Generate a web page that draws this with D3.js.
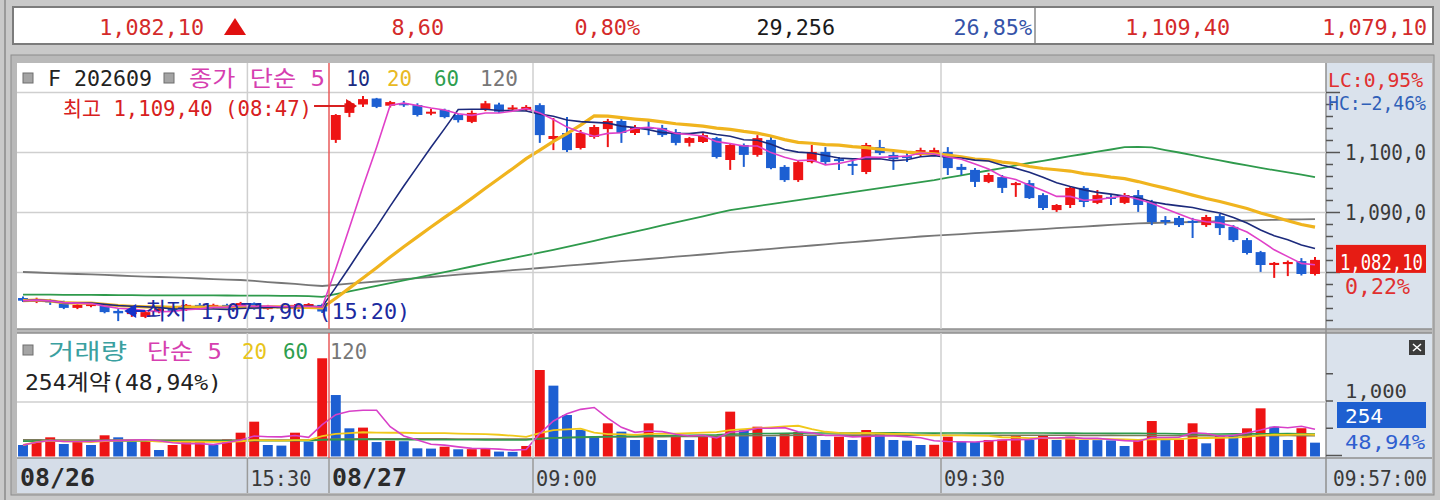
<!DOCTYPE html>
<html lang="ko"><head><meta charset="utf-8"><title>F 202609</title>
<script src="https://cdn.jsdelivr.net/npm/d3@7/dist/d3.min.js"></script>
<style>
html,body{margin:0;padding:0;background:#c6c6c6;overflow:hidden}
svg{display:block}
</style></head><body>
<svg id="chart" width="1440" height="500"></svg>
<script>
// ---------------- DATA ----------------
const times = [
 "08/26 15:13","08/26 15:14","08/26 15:15","08/26 15:16","08/26 15:17","08/26 15:18","08/26 15:19","08/26 15:20",
 "08/26 15:21","08/26 15:22","08/26 15:23","08/26 15:24","08/26 15:25","08/26 15:26","08/26 15:27","08/26 15:28",
 "08/26 15:29","08/26 15:30","08/26 15:31","08/26 15:32","08/26 15:33","08/26 15:34","08/26 15:35",
 "08/27 08:45","08/27 08:46","08/27 08:47","08/27 08:48","08/27 08:49","08/27 08:50","08/27 08:51","08/27 08:52",
 "08/27 08:53","08/27 08:54","08/27 08:55","08/27 08:56","08/27 08:57","08/27 08:58","08/27 08:59",
 "08/27 09:00","08/27 09:01","08/27 09:02","08/27 09:03","08/27 09:04","08/27 09:05","08/27 09:06","08/27 09:07",
 "08/27 09:08","08/27 09:09","08/27 09:10","08/27 09:11","08/27 09:12","08/27 09:13","08/27 09:14","08/27 09:15",
 "08/27 09:16","08/27 09:17","08/27 09:18","08/27 09:19","08/27 09:20","08/27 09:21","08/27 09:22","08/27 09:23",
 "08/27 09:24","08/27 09:25","08/27 09:26","08/27 09:27","08/27 09:28","08/27 09:29","08/27 09:30","08/27 09:31",
 "08/27 09:32","08/27 09:33","08/27 09:34","08/27 09:35","08/27 09:36","08/27 09:37","08/27 09:38","08/27 09:39",
 "08/27 09:40","08/27 09:41","08/27 09:42","08/27 09:43","08/27 09:44","08/27 09:45","08/27 09:46","08/27 09:47",
 "08/27 09:48","08/27 09:49","08/27 09:50","08/27 09:51","08/27 09:52","08/27 09:53","08/27 09:54","08/27 09:55",
 "08/27 09:56","08/27 09:57"];

const open = [1075.75,1075.3,1075.4,1075.1,1074.1,1074.4,1074.6,1073.6,1073.2,1072.6,1073.4,1074.0,1073.75,1074.6,1074.1,1074.6,1074.25,1074.9,1073.9,1074.4,1073.9,1074.25,1074.6,
 1102.1,1106.6,1108.0,1109.0,1107.8,1108.2,1107.9,1106.6,1107.1,1106.25,1105.1,1107.1,1108.0,1107.3,1107.1,1107.9,1102.25,1103.25,1100.75,1102.6,1103.9,1105.25,1103.25,1104.25,1104.1,1103.4,1101.6,1101.75,1102.4,1098.75,1101.25,1099.6,1102.1,1097.6,1095.4,1098.4,1100.1,1098.9,1098.1,1096.75,1100.9,1099.6,1099.4,1099.6,1099.6,1100.1,1097.6,1097.1,1095.1,1095.9,1094.6,1094.9,1092.9,1090.4,1091.25,1094.1,1091.6,1092.6,1091.6,1092.9,1091.75,1088.75,1089.1,1088.6,1087.9,1089.4,1087.6,1085.4,1083.4,1081.25,1081.4,1081.9,1079.75];
const high = [1076.0,1075.8,1075.6,1075.3,1074.9,1075.1,1074.9,1073.9,1073.75,1073.6,1074.25,1074.2,1074.75,1074.9,1074.8,1074.8,1075.1,1075.0,1074.6,1074.6,1074.75,1074.9,1074.8,
 1106.4,1108.6,1109.4,1109.1,1108.6,1108.6,1108.2,1107.3,1107.3,1106.4,1107.0,1108.6,1108.3,1107.9,1107.9,1108.2,1105.75,1105.9,1103.75,1104.6,1105.6,1105.6,1104.6,1105.4,1104.6,1103.9,1102.6,1103.2,1102.6,1101.5,1101.5,1102.9,1102.6,1097.9,1098.6,1101.25,1100.9,1099.25,1098.75,1101.6,1102.1,1100.4,1099.9,1100.8,1100.8,1100.9,1098.1,1097.4,1096.6,1096.25,1095.1,1095.4,1093.2,1091.4,1094.25,1094.4,1093.75,1092.9,1093.25,1093.75,1092.1,1089.4,1089.4,1089.1,1089.6,1089.75,1087.9,1085.75,1083.6,1081.75,1082.0,1082.4,1082.6];
const low = [1075.1,1074.9,1074.6,1073.9,1073.9,1074.2,1073.2,1071.9,1072.6,1072.4,1073.2,1073.4,1073.6,1073.9,1074.0,1074.1,1074.1,1073.8,1073.8,1073.8,1073.8,1074.1,1073.25,
 1101.6,1105.9,1107.6,1107.4,1107.5,1107.6,1106.0,1106.2,1105.7,1105.0,1104.9,1106.9,1106.6,1107.1,1106.9,1101.6,1100.4,1100.1,1100.5,1102.3,1100.9,1101.6,1102.9,1102.9,1102.6,1101.2,1101.0,1101.6,1099.0,1097.1,1097.6,1099.3,1097.2,1095.1,1095.1,1098.2,1097.9,1097.1,1096.25,1096.4,1099.6,1097.1,1098.4,1099.4,1099.4,1096.25,1096.25,1094.25,1094.9,1093.25,1092.6,1092.25,1090.4,1090.1,1090.75,1090.9,1091.4,1091.25,1091.4,1090.1,1087.9,1087.9,1087.6,1085.75,1087.6,1086.25,1085.1,1083.0,1080.1,1079.1,1079.4,1079.5,1079.5];
const close = [1075.3,1075.5,1075.0,1074.1,1074.6,1074.9,1073.4,1073.2,1073.4,1073.4,1074.0,1073.6,1074.6,1074.1,1074.6,1074.25,1074.9,1073.9,1074.4,1074.0,1074.6,1074.75,1073.5,
 1106.25,1108.2,1108.9,1107.6,1108.4,1108.0,1106.25,1106.8,1105.9,1105.4,1106.6,1108.2,1106.8,1107.5,1107.6,1102.9,1102.75,1100.4,1103.25,1104.25,1105.25,1103.25,1104.25,1103.9,1102.9,1101.6,1102.4,1102.9,1099.25,1101.25,1099.6,1102.4,1097.4,1095.4,1098.4,1100.1,1098.4,1098.6,1097.8,1101.25,1099.9,1098.9,1099.1,1100.4,1100.4,1097.4,1097.1,1095.1,1096.25,1094.1,1094.9,1092.4,1090.75,1091.25,1094.1,1091.75,1092.9,1092.25,1092.9,1091.25,1088.4,1088.4,1087.9,1088.4,1089.25,1087.4,1085.4,1083.25,1081.25,1081.6,1081.75,1079.75,1082.1];
const volume = [211,315,352,229,272,211,389,352,280,300,119,211,272,280,211,315,437,639,211,200,437,272,1802,
 1128,517,530,265,290,280,150,145,180,132,135,140,90,85,193,1587,1300,761,486,364,609,456,303,609,303,364,303,364,370,823,486,547,364,430,450,380,303,364,303,486,425,303,290,211,215,364,272,265,303,310,394,303,394,303,364,303,300,295,193,303,651,303,310,609,242,394,390,517,884,547,303,519,254];
// price moving averages 60 / 120 (history before the visible window is not shown)
const ma60 = [1076.3,1076.3,1076.3,1076.28,1076.27,1076.27,1076.25,1076.23,1076.22,1076.2,1076.2,1076.2,1076.19,1076.18,1076.18,1076.17,1076.16,1076.15,1076.14,1076.12,1076.1,1076.05,1075.95,
 1076.4,1076.86,1077.32,1077.78,1078.24,1078.7,1079.16,1079.62,1080.08,1080.54,1081.0,1081.46,1081.92,1082.38,1082.84,1083.3,1083.76,
 1084.27,1084.78,1085.29,1085.8,1086.31,1086.82,1087.33,1087.84,1088.35,1088.86,1089.37,1089.88,1090.4,
 1090.73,1091.07,1091.4,1091.73,1092.07,1092.4,1092.73,1093.07,1093.4,1093.73,1094.07,1094.4,1094.73,1095.07,1095.4,
 1095.8,1096.2,1096.6,1097.0,1097.4,1097.85,1098.25,1098.6,1099.0,1099.4,1099.75,1100.15,1100.5,1100.9,1100.95,1100.85,
 1100.4,1100.0,1099.55,1099.1,1098.7,1098.25,1097.85,1097.45,1097.05,1096.7,1096.3,1095.9];
const ma120 = [1080.08,1080.0,1079.9,1079.8,1079.75,1079.7,1079.6,1079.5,1079.4,1079.3,1079.25,1079.2,1079.1,1079.0,1078.9,1078.8,1078.75,1078.6,1078.4,1078.25,1078.1,1077.9,1077.75,
 1077.94,1078.13,1078.31,1078.5,1078.69,1078.88,1079.06,1079.25,1079.44,1079.63,1079.81,1080.0,1080.19,1080.38,1080.56,1080.75,1080.94,1081.13,1081.31,1081.5,1081.69,1081.88,1082.06,1082.25,1082.44,1082.63,1082.81,1083.0,1083.19,1083.38,1083.56,1083.75,1083.94,1084.13,1084.31,1084.5,1084.69,1084.88,1085.06,1085.25,1085.44,1085.63,1085.81,1086.0,
 1086.14,1086.28,1086.41,1086.55,1086.69,1086.83,1086.96,1087.1,1087.24,1087.38,1087.51,1087.65,1087.79,1087.93,1088.06,1088.2,1088.25,
 1088.3,1088.36,1088.42,1088.48,1088.54,1088.6,1088.66,1088.72,1088.78,1088.83,1088.87,1088.9];
const volMa60 = [282,283,284,284,285,285,286,286,286,287,286,286,286,287,287,287,288,290,290,290,291,291,305,
 310,310,311,311,311,310,309,308,308,307,306,305,304,303,303,
 325,340,350,355,360,368,372,374,380,382,385,388,392,398,410,414,420,422,425,428,430,430,431,432,434,434,433,432,430,429,430,430,429,429,430,431,430,431,428,429,427,426,425,424,424,423,421,415,414,414,413,415,416,416,418,420,416,414];
const volMa120 = [305,305,304,304,304,303,303,303,302,302,301,301,301,300,300,300,300,301,301,300,300,300,312,
 320,322,323,324,325,325,324,323,323,322,321,320,319,318,318,
 330,341,347,350,353,357,359,360,363,364,366,368,370,373,380,382,385,386,388,390,391,391,392,392,393,393,393,392,391,390,390,390,389,389,390,390,390,391,389,389,388,388,387,386,386,385,384,381,380,380,379,380,381,381,382,384,382,380];

const axisTickTimes  = ["08/26 15:13","08/26 15:30","08/27 08:45","08/27 09:00","08/27 09:30"];
const axisTickLabels = ["08/26","15:30","08/27","09:00","09:30"];
const axisTickBold   = [true,false,true,false,false];
const lastTimeLabel = "09:57:00";
const prevClose = 1073.5;
const dayVolume = 29256;
const dayVolumeRate = 26.85;
const lcRate = 0.95, hcRate = -2.46, maDiffRate = 0.22;
const priceLegend = ["F 202609","종가 단순 5","10","20","60","120"];
const volLegend = ["거래량","단순 5","20","60","120"];
const priceTicks = d3.range(1072, 1111, 2);
const priceLabelTicks = [1090, 1100];
const volTicks = [0, 500, 1000, 1500];

// ---------------- HELPERS ----------------
const svg = d3.select("#chart");
const RED = "#ee1414", BLUE = "#1d5fd2";
const fmt2 = v => d3.format(",.2f")(v).replace(".", ",");
const fmt1 = v => d3.format(",.1f")(v).replace(".", ",");
const pct = v => d3.format(".2f")(v).replace(".", ",") + "%";
const isK = s => /[\u3131-\uD7A3]/.test(s);
function txt(parent, x, y, str, o = {}) {
  const t = parent.append("text").attr("x", x).attr("y", y)
    .attr("fill", o.color || "#222").attr("font-size", o.size || 22)
    .attr("text-anchor", o.anchor || "start").attr("font-weight", o.weight || "normal");
  (str.match(/[\u3131-\uD7A3]+|[^\u3131-\uD7A3]+/g) || []).forEach(r => {
    const k = isK(r);
    t.append("tspan").text(r)
      .attr("font-family", k ? "Noto Sans CJK KR" : "DejaVu Sans Mono")
      .attr("font-size", k ? (o.ksize || (o.size || 22) * 1.05) : null);
  });
  if (o.width) t.attr("textLength", o.width).attr("lengthAdjust", "spacingAndGlyphs");
  return t;
}

// ---------------- LAYOUT ----------------
const L = 17, R = 1326, PR = 1432;
const pTop = 63, pBot = 329, vTop = 333, vBot = 458, aTop = 458, aBot = 493;

const x = d3.scaleBand().domain(times).range([16.2, 1321.8]).paddingInner(0.27).paddingOuter(0.135);
const bw = x.bandwidth();
const cx = t => x(t) + bw / 2;
const slotL = t => x(t) - x.step() * 0.135;
const yP = d3.scaleLinear().domain([1070, 1110]).range([332.5, 92.5]);
const yV = d3.scaleLinear().domain([0, 1000]).range([456.5, 402]);

// background / window chrome
svg.append("rect").attr("width", 1440).attr("height", 500).attr("fill", "#c9c9c9");
svg.append("line").attr("x1", 5).attr("x2", 5).attr("y1", 0).attr("y2", 500).attr("stroke", "#9a9a9a").attr("stroke-width", 2);

// ---------------- TOP QUOTE BAR ----------------
svg.append("rect").attr("x", 13).attr("y", 7).attr("width", 1420).attr("height", 37)
  .attr("fill", "#fff").attr("stroke", "#7c7c7c").attr("stroke-width", 2);
svg.append("line").attr("x1", 1035).attr("x2", 1035).attr("y1", 8).attr("y2", 43).attr("stroke", "#8a8a8a").attr("stroke-width", 1.5);
const lastClose = close[close.length - 1];
const chg = lastClose - prevClose;
const dayHigh = d3.max(high.slice(23)), dayLow = d3.min(low.slice(23));
const quoteTexts = [fmt2(lastClose), d3.format(".2f")(chg).replace(".", ","), pct(chg / prevClose * 100),
  d3.format(",")(dayVolume), pct(dayVolumeRate), fmt2(dayHigh), fmt2(dayLow)];
const quoteRight = [204, 444, 640, 835, 1032, 1230, 1427];
const quoteColor = ["#d42a2a", "#d42a2a", "#d42a2a", "#1a1a1a", "#3553a8", "#d42a2a", "#d42a2a"];
quoteTexts.forEach((s, i) => txt(svg, quoteRight[i], 35, s, { anchor: "end", color: quoteColor[i], size: 22, width: s.length * 13.1 }));
svg.append("path").attr("d", "M235,18 L246,35 L224,35 Z").attr("fill", "#e01010");

// ---------------- FRAME ----------------
svg.append("rect").attr("x", 11).attr("y", 55).attr("width", 1423).attr("height", 440).attr("fill", "#b9b9b9").attr("stroke", "#8c8c8c");
svg.append("rect").attr("x", L).attr("y", pTop).attr("width", R - L).attr("height", pBot - pTop).attr("fill", "#fff");
svg.append("rect").attr("x", L).attr("y", vTop).attr("width", R - L).attr("height", vBot - vTop).attr("fill", "#fff");
svg.append("rect").attr("x", R).attr("y", pTop).attr("width", PR - R).attr("height", pBot - pTop).attr("fill", "#dae2ec");
svg.append("rect").attr("x", R).attr("y", vTop).attr("width", PR - R).attr("height", vBot - vTop).attr("fill", "#dae2ec");
svg.append("rect").attr("x", L).attr("y", aTop).attr("width", PR - L).attr("height", aBot - aTop).attr("fill", "#d5dde8");
[pBot, vTop, vBot].forEach(y => svg.append("line").attr("x1", L).attr("x2", PR).attr("y1", y).attr("y2", y).attr("stroke", "#8f8f8f").attr("stroke-width", 1.5));
svg.append("line").attr("x1", R).attr("x2", R).attr("y1", pTop).attr("y2", aBot).attr("stroke", "#8f8f8f").attr("stroke-width", 1.5);

const defs = svg.append("defs");
defs.append("clipPath").attr("id", "cp").append("rect").attr("x", L).attr("y", pTop).attr("width", R - L).attr("height", pBot - pTop);
defs.append("clipPath").attr("id", "cv").append("rect").attr("x", L).attr("y", vTop).attr("width", R - L).attr("height", vBot - vTop - 1);

// ---------------- GRID ----------------
const gP = svg.append("g").attr("clip-path", "url(#cp)");
const gV = svg.append("g").attr("clip-path", "url(#cv)");
[1080, 1090, 1100, 1110].forEach(v => gP.append("line").attr("x1", L).attr("x2", R).attr("y1", yP(v)).attr("y2", yP(v)).attr("stroke", "#cfcfcf").attr("stroke-width", 1.5));
gV.append("line").attr("x1", L).attr("x2", R).attr("y1", yV(1000)).attr("y2", yV(1000)).attr("stroke", "#cfcfcf").attr("stroke-width", 1.5);
axisTickTimes.forEach((t, i) => {
  if (i === 0) return;
  const xx = slotL(t);
  const dateLine = axisTickBold[i];
  [[pTop, pBot], [vTop, vBot]].forEach(([a, b]) =>
    svg.append("line").attr("x1", xx).attr("x2", xx).attr("y1", a).attr("y2", b)
      .attr("stroke", dateLine ? "#e85a5a" : "#cfcfcf").attr("stroke-width", 1.5));
  svg.append("line").attr("x1", xx).attr("x2", xx).attr("y1", aTop).attr("y2", aBot).attr("stroke", "#9a9a9a").attr("stroke-width", 1.5);
});

// ---------------- PRICE: MA 60 / 120 ----------------
const lineP = d3.line().x((d, i) => cx(times[i])).y(d => yP(d));
gP.append("path").attr("d", lineP(ma120)).attr("fill", "none").attr("stroke", "#777").attr("stroke-width", 1.8);
gP.append("path").attr("d", lineP(ma60)).attr("fill", "none").attr("stroke", "#2f9a4c").attr("stroke-width", 1.8);

// ---------------- CANDLES ----------------
times.forEach((t, i) => {
  const up = close[i] >= open[i];
  const col = up ? RED : BLUE;
  gP.append("line").attr("x1", cx(t)).attr("x2", cx(t)).attr("y1", yP(high[i])).attr("y2", yP(low[i])).attr("stroke", col).attr("stroke-width", 2);
  const y0 = yP(Math.max(open[i], close[i])), y1 = yP(Math.min(open[i], close[i]));
  gP.append("rect").attr("x", x(t)).attr("y", y0).attr("width", bw).attr("height", Math.max(2, y1 - y0)).attr("fill", col);
});

// ---------------- PRICE: MA 5 / 10 / 20 (close, simple) ----------------
const sma = (arr, n) => arr.map((_, i) => d3.mean(arr.slice(Math.max(0, i - n + 1), i + 1)));
gP.append("path").attr("d", lineP(sma(close, 20))).attr("fill", "none").attr("stroke", "#f0b41e").attr("stroke-width", 3.2);
gP.append("path").attr("d", lineP(sma(close, 10))).attr("fill", "none").attr("stroke", "#1c2a7c").attr("stroke-width", 1.6);
gP.append("path").attr("d", lineP(sma(close, 5))).attr("fill", "none").attr("stroke", "#e040c8").attr("stroke-width", 1.6);

// ---------------- VOLUME ----------------
times.forEach((t, i) => {
  const col = i > 0 && volume[i] > volume[i - 1] ? RED : BLUE;
  gV.append("rect").attr("x", x(t)).attr("y", yV(volume[i])).attr("width", bw).attr("height", yV(0) - yV(volume[i])).attr("fill", col);
});
const lineV = d3.line().x((d, i) => cx(times[i])).y(d => yV(d));
gV.append("path").attr("d", lineV(volMa120)).attr("fill", "none").attr("stroke", "#7a7a5a").attr("stroke-width", 1.6);
gV.append("path").attr("d", lineV(volMa60)).attr("fill", "none").attr("stroke", "#2f9a4c").attr("stroke-width", 1.6);
gV.append("path").attr("d", lineV(sma(volume, 20))).attr("fill", "none").attr("stroke", "#f0c81a").attr("stroke-width", 1.8);
gV.append("path").attr("d", lineV(sma(volume, 5))).attr("fill", "none").attr("stroke", "#d840c8").attr("stroke-width", 1.6);

// ---------------- LEGENDS ----------------
function icon(x0, y0) {
  svg.append("rect").attr("x", x0).attr("y", y0).attr("width", 10).attr("height", 10).attr("fill", "#a4a4a4").attr("stroke", "#6e6e6e");
}
icon(23, 73); icon(164, 73);
const plX = [48, 189, 346, 387, 434, 480], plW = [104, 136, 24, 25, 25, 38];
const plC = ["#222", "#d63fb0", "#1b2b82", "#e8b923", "#2e9e4e", "#777"];
priceLegend.forEach((s, i) => txt(svg, plX[i], 86, s, { color: plC[i], width: plW[i], size: 21, ksize: 22 }));
icon(23, 345);
const vlX = [48, 147, 242, 283, 330], vlW = [79, 75, 25, 25, 37];
const vlC = ["#3aa0a0", "#d63fb0", "#e8c51a", "#2e9e4e", "#777"];
volLegend.forEach((s, i) => txt(svg, vlX[i], 359, s, { color: vlC[i], width: vlW[i], size: 21, ksize: 22 }));
const lastVol = volume[volume.length - 1], prevVol = volume[volume.length - 2];
txt(svg, 25, 390, `${lastVol}계약(${pct(lastVol / prevVol * 100)})`, { color: "#222", width: 197, size: 21, ksize: 22 });

// ---------------- HIGH / LOW MARKERS ----------------
const hiIdx = 23 + d3.maxIndex(high.slice(23));
const hiX = x(times[hiIdx]);
txt(svg, hiX - 46, 116, `최고 ${fmt2(high[hiIdx])} (${times[hiIdx].slice(6)})`, { anchor: "end", color: "#d82020", width: 249, size: 21, ksize: 21 });
svg.append("line").attr("x1", hiX - 44).attr("x2", hiX - 8).attr("y1", 106).attr("y2", 106).attr("stroke", "#d82020").attr("stroke-width", 2);
svg.append("path").attr("d", `M${hiX - 12},99 L${hiX - 1},106 L${hiX - 12},113 Z`).attr("fill", "#e01010");

const loIdx = d3.minIndex(low.slice(0, 23));
const loX = x(times[loIdx]) + bw;
svg.append("path").attr("d", `M${loX + 1},311 L${loX + 13},304 L${loX + 13},318 Z`).attr("fill", "#1530c8");
svg.append("line").attr("x1", loX + 8).attr("x2", loX + 22).attr("y1", 311).attr("y2", 311).attr("stroke", "#1530c8").attr("stroke-width", 2);
txt(svg, loX + 22, 319, `최저 ${fmt2(low[loIdx])} (${times[loIdx].slice(6)})`, { color: "#1c2aa0", width: 265, size: 22, ksize: 23 });

// ---------------- RIGHT PRICE AXIS ----------------
const gR = svg.append("g");
priceTicks.forEach(v => {
  if (yP(v) < pTop || yP(v) > pBot) return;
  gR.append("line").attr("x1", R).attr("x2", R + (v % 10 === 0 ? 14 : 7)).attr("y1", yP(v)).attr("y2", yP(v)).attr("stroke", "#555").attr("stroke-width", 1.5);
});
priceLabelTicks.forEach(v => {
  const s = fmt1(v);
  txt(gR, 1345, yP(v) + 7, s, { color: "#3a3a3a", width: 81, size: 22 });
});
txt(gR, 1328, 87, `LC:${pct(lcRate)}`, { color: "#e03030", width: 95, size: 20 });
txt(gR, 1328, 110, `HC:${pct(hcRate)}`, { color: "#2f5fb8", width: 98, size: 19 });
const boxY = yP(lastClose);
gR.append("rect").attr("x", 1336).attr("y", boxY - 15).attr("width", 90).attr("height", 28).attr("fill", "#e61c14");
txt(gR, 1340, boxY + 10, fmt2(lastClose), { color: "#fff", width: 83, size: 21 });
txt(gR, 1345, boxY + 34, pct(maDiffRate), { color: "#e03030", width: 65, size: 22 });

// ---------------- RIGHT VOLUME AXIS ----------------
volTicks.forEach(v => {
  if (yV(v) < vTop) return;
  gR.append("line").attr("x1", R).attr("x2", R + (v === 0 ? 16 : 7)).attr("y1", yV(v) - 1).attr("y2", yV(v) - 1).attr("stroke", "#555").attr("stroke-width", 1.5);
});
txt(gR, 1345, 398, d3.format(",")(1000), { color: "#3a3a3a", width: 62, size: 20 });
gR.append("rect").attr("x", 1337).attr("y", 402).attr("width", 89).attr("height", 26).attr("fill", "#1e5fd0");
txt(gR, 1345, 423, String(lastVol), { color: "#fff", width: 38, size: 20 });
txt(gR, 1345, 449, pct(lastVol / prevVol * 100), { color: "#2f5fd0", width: 80, size: 20 });
gR.append("rect").attr("x", 1409).attr("y", 340).attr("width", 16).attr("height", 15).attr("fill", "#3c3c3c");
gR.append("path").attr("d", "M1413,344 L1421,351 M1421,344 L1413,351").attr("stroke", "#fff").attr("stroke-width", 1.5);

// ---------------- X AXIS LABELS ----------------
axisTickTimes.forEach((t, i) => {
  const s = axisTickLabels[i];
  const xx = i === 0 ? 20 : slotL(t) + 3;
  txt(svg, xx, 486, s, { color: axisTickBold[i] ? "#2b2b2b" : "#3a3a3a", weight: axisTickBold[i] ? "bold" : "normal",
    size: axisTickBold[i] ? 25 : 22, width: axisTickBold[i] ? 75 : 61 });
});
txt(gR, 1333, 486, lastTimeLabel, { color: "#3a3a3a", width: 94, size: 21 });
</script>
</body></html>
